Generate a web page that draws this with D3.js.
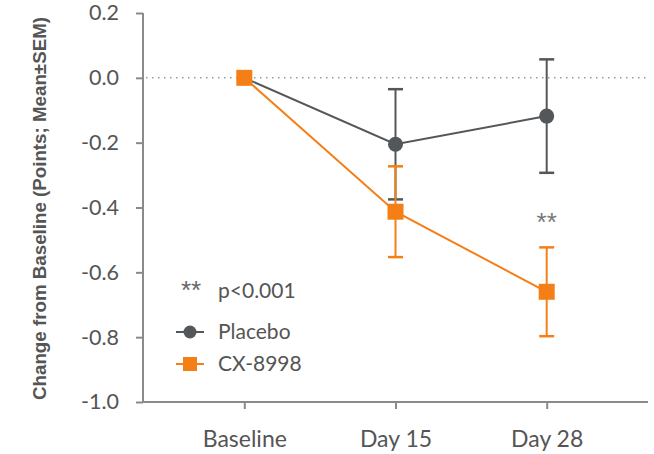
<!DOCTYPE html>
<html>
<head>
<meta charset="utf-8">
<script src="https://cdn.jsdelivr.net/npm/d3@7"></script>
<style>
body { margin: 0; background: #fff; }
svg text { font-family: Lato, "Open Sans", sans-serif; }
</style>
</head>
<body>
<script>
// kategorie i dane (srednia, SEM)
var timepoints = ["Baseline", "Day 15", "Day 28"];
var placeboMean = [0, -0.205, -0.118];
var placeboSem = [0, 0.170, 0.175];
var cxMean = [0, -0.413, -0.660];
var cxSem = [0, 0.140, 0.137];
var yTicks = [0.2, 0.0, -0.2, -0.4, -0.6, -0.8, -1.0];

var W = 654, H = 454;
var gray = "#54575a", orange = "#f47f17", axisCol = "#8a8a8a";

var svg = d3.select("body").append("svg")
	.attr("width", W)
	.attr("height", H);

var x = d3.scalePoint().domain(timepoints).range([143, 648]).padding(0.67);
var y = d3.scaleLinear().domain([-1.0, 0.2]).range([402, 13]);

// os Y
var yAxis = svg.append("g")
	.attr("transform", "translate(143,0)")
	.call(d3.axisLeft(y).tickValues(yTicks).tickSize(7).tickPadding(17)
		.tickFormat(function(d) { return d3.format(".1f")(d).replace("\u2212", "-"); }));
yAxis.select(".domain").attr("stroke", axisCol).attr("stroke-width", 2).attr("d", "M0," + y(0.2) + "V" + y(-1.0));
yAxis.selectAll(".tick line").attr("stroke", axisCol).attr("stroke-width", 2);
yAxis.selectAll(".tick text").attr("fill", "#555").style("font-size", "21.5px");

// os X
var xAxis = svg.append("g")
	.attr("transform", "translate(0," + y(-1.0) + ")")
	.call(d3.axisBottom(x).tickSize(7).tickPadding(22));
xAxis.select(".domain").attr("stroke", axisCol).attr("stroke-width", 2).attr("d", "M143,0H648");
xAxis.selectAll(".tick line").attr("stroke", axisCol).attr("stroke-width", 2);
xAxis.selectAll(".tick text").attr("fill", "#555").style("font-size", "23px");

// linia zero
svg.append("line")
	.attr("x1", 146).attr("x2", 648)
	.attr("y1", y(0)).attr("y2", y(0))
	.attr("stroke", "#999").attr("stroke-width", 1.5)
	.attr("stroke-dasharray", "1.5,4.5");

// tytul osi Y
svg.append("text")
	.attr("transform", "translate(46," + ((y(0.2) + y(-1.0)) / 2 + 1) + ") rotate(-90)")
	.attr("text-anchor", "middle")
	.attr("fill", "#555")
	.attr("textLength", 383)
	.attr("lengthAdjust", "spacingAndGlyphs")
	.style("font-family", "'Liberation Sans', Arial, sans-serif")
	.style("font-weight", "bold")
	.style("font-size", "17.5px")
	.text("Change from Baseline (Points; Mean\u00b1SEM)");

function drawSeries(mean, sem, color, shape) {
	var g = svg.append("g");
	var pts = timepoints.map(function(t, i) { return { t: t, m: mean[i], s: sem[i] }; });
	g.append("path")
		.datum(pts)
		.attr("fill", "none")
		.attr("stroke", color)
		.attr("stroke-width", 2)
		.attr("d", d3.line().x(function(d) { return x(d.t); }).y(function(d) { return y(d.m); }));
	var eb = g.selectAll(".eb").data(pts.filter(function(d) { return d.s > 0; })).enter().append("g");
	eb.append("line")
		.attr("x1", function(d) { return x(d.t); }).attr("x2", function(d) { return x(d.t); })
		.attr("y1", function(d) { return y(d.m + d.s); }).attr("y2", function(d) { return y(d.m - d.s); })
		.attr("stroke", color).attr("stroke-width", 2);
	[1, -1].forEach(function(k) {
		eb.append("line")
			.attr("x1", function(d) { return x(d.t) - 7.5; }).attr("x2", function(d) { return x(d.t) + 7.5; })
			.attr("y1", function(d) { return y(d.m + k * d.s); }).attr("y2", function(d) { return y(d.m + k * d.s); })
			.attr("stroke", color).attr("stroke-width", 2.5);
	});
	if (shape === "circle") {
		g.selectAll("circle").data(pts).enter().append("circle")
			.attr("cx", function(d) { return x(d.t); })
			.attr("cy", function(d) { return y(d.m); })
			.attr("r", 7.5)
			.attr("fill", color);
	} else {
		g.selectAll("rect").data(pts).enter().append("rect")
			.attr("x", function(d) { return x(d.t) - 8; })
			.attr("y", function(d) { return y(d.m) - 8; })
			.attr("width", 16).attr("height", 16)
			.attr("fill", color);
	}
}

drawSeries(placeboMean, placeboSem, gray, "circle");
drawSeries(cxMean, cxSem, orange, "rect");

// gwiazdki istotnosci
svg.append("text")
	.attr("x", x("Day 28")).attr("y", 231)
	.attr("text-anchor", "middle")
	.attr("fill", "#777")
	.style("font-family", "'Liberation Sans', Arial, sans-serif")
	.style("font-size", "26px")
	.text("**");

// legenda
var leg = svg.append("g");
leg.append("text").attr("x", 181).attr("y", 299).attr("fill", "#666")
	.style("font-family", "'Liberation Sans', Arial, sans-serif").style("font-size", "26px").text("**");
leg.append("text").attr("x", 218).attr("y", 298).attr("fill", "#555").style("font-size", "21px").text("p<0.001");

leg.append("line").attr("x1", 176).attr("x2", 204).attr("y1", 332).attr("y2", 332).attr("stroke", gray).attr("stroke-width", 2);
leg.append("circle").attr("cx", 190).attr("cy", 332).attr("r", 6.5).attr("fill", gray);
leg.append("text").attr("x", 218).attr("y", 339).attr("fill", "#555").style("font-size", "21px").text("Placebo");

leg.append("line").attr("x1", 176).attr("x2", 204).attr("y1", 364).attr("y2", 364).attr("stroke", orange).attr("stroke-width", 2);
leg.append("rect").attr("x", 183).attr("y", 357).attr("width", 14).attr("height", 14).attr("fill", orange);
leg.append("text").attr("x", 218).attr("y", 371).attr("fill", "#555").style("font-size", "21px").text("CX-8998");
</script>
</body>
</html>
